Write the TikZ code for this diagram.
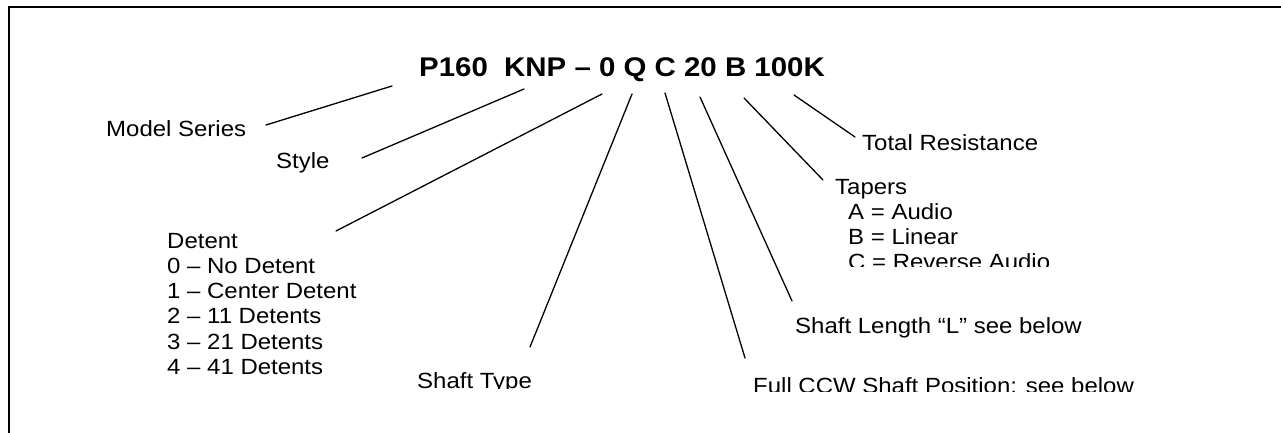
\documentclass[tikz,border=0pt]{standalone}
\usepackage{fontspec}
\setmainfont[FakeStretch=1.09]{Liberation Sans}
\begin{document}
\begin{tikzpicture}[x=1pt,y=-1pt,
  lbl/.style={anchor=base west,inner sep=0pt,font=\fontsize{22}{25.3}\selectfont},
  ttl/.style={anchor=base,inner sep=0pt,font=\fontsize{27}{31}\selectfont\bfseries},
  lead/.style={line width=1.3pt,line cap=round},
  frame/.style={line width=2pt}]
\useasboundingbox (0,0) rectangle (1281,433);
% frame
\coordinate (fr1) at (8.5,433);
\coordinate (fr2) at (8.5,7.5);
\coordinate (fr3) at (1281,7.5);
\draw[frame] (fr1) -- (fr2) -- (fr3);
% title
\node[ttl] (title) at (622,77) {P160\ \ KNP – 0 Q C 20 B 100K};
% labels
\node[lbl] (model) at (106,136) {Model Series};
\node[lbl] (style) at (276,168) {Style};
\node[lbl] (det0) at (167,248) {Detent};
\node[lbl] (det1) at (167,273.3) {0 – No Detent};
\node[lbl] (det2) at (167,298.6) {1 – Center Detent};
\node[lbl] (det3) at (167,323.9) {2 – 11 Detents};
\node[lbl] (det4) at (167,349.2) {3 – 21 Detents};
\node[lbl] (det5) at (167,374.5) {4 – 41 Detents};
\begin{scope}
\clip (0,0) rectangle (1281,388);
\node[lbl] (shtype) at (417,388) {Shaft Type};
\end{scope}
\begin{scope}
\clip (0,0) rectangle (1281,391);
\node[lbl] (ccw) at (753,393) {Full CCW Shaft Position: see below};
\end{scope}
\node[lbl] (shlen) at (795,333) {Shaft Length “L” see below};
\node[lbl] (total) at (862,150) {Total Resistance};
\node[lbl] (tap0) at (835,194) {Tapers};
\node[lbl] (tap1) at (848,219.3) {A = Audio};
\node[lbl] (tap2) at (848,244.6) {B = Linear};
\begin{scope}
\clip (0,0) rectangle (1281,266);
\node[lbl] (tap3) at (848,269.9) {C = Reverse Audio};
\end{scope}
% leader end points
\coordinate (a1) at (392,86);  \coordinate (b1) at (266,125);
\coordinate (a2) at (524,89);  \coordinate (b2) at (362,158);
\coordinate (a3) at (602,94);  \coordinate (b3) at (336,231);
\coordinate (a4) at (632,94);  \coordinate (b4) at (530,347);
\coordinate (a5) at (665,93);  \coordinate (b5) at (745,358);
\coordinate (a6) at (700,97);  \coordinate (b6) at (792,301);
\coordinate (a7) at (744,98);  \coordinate (b7) at (823,180);
\coordinate (a8) at (794,95);  \coordinate (b8) at (855,137);
\foreach \i in {1,...,8} {\draw[lead] (a\i) -- (b\i);}
\end{tikzpicture}
\end{document}
